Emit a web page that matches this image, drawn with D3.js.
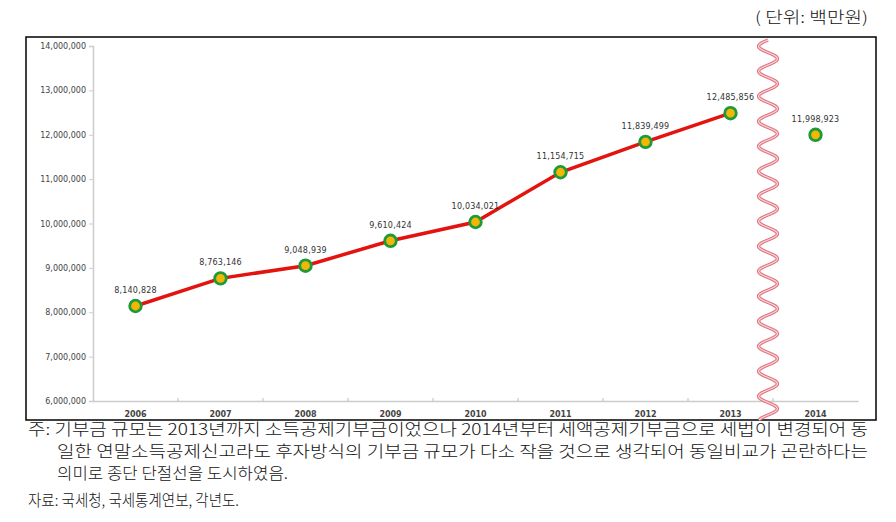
<!DOCTYPE html>
<html><head><meta charset="utf-8">
<script src="https://cdn.jsdelivr.net/npm/d3@7"></script>
<style>body{margin:0;background:#fff}svg{display:block}</style>
</head><body><svg id="c" width="896" height="522"></svg>
<script>
const years = ["2006","2007","2008","2009","2010","2011","2012","2013","2014"];
const values = [8140828, 8763146, 9048939, 9610424, 10034021, 11154715, 11839499, 12485856, 11998923];
const yTicks = [6000000,7000000,8000000,9000000,10000000,11000000,12000000,13000000,14000000];
const unitLabel = "( 단위: 백만원)";
const noteLines = [
  "주: 기부금 규모는 2013년까지 소득공제기부금이었으나 2014년부터 세액공제기부금으로 세법이 변경되어 동",
  "일한 연말소득공제신고라도 후자방식의 기부금 규모가 다소 작을 것으로 생각되어 동일비교가 곤란하다는",
  "의미로 종단 단절선을 도시하였음."
];
const sourceLine = "자료: 국세청, 국세통계연보, 각년도.";

const svg = d3.select("#c");
const x = d3.scaleBand().domain(years).range([93, 858]);
const y = d3.scaleLinear().domain([6000000, 14000000]).range([401, 46]);
const fmt = d3.format(",");

// outer box
svg.append("rect").attr("x",26).attr("y",37).attr("width",850).attr("height",383)
  .attr("fill","none").attr("stroke","#000").attr("stroke-width",1.5);

// unit label
svg.append("text").attr("x",755).attr("y",23)
  .attr("font-family","'Noto Sans CJK KR'").attr("font-size",15.5).attr("font-weight",300).attr("fill","#111")
  .attr("textLength",113).attr("lengthAdjust","spacingAndGlyphs")
  .text(unitLabel);

// y axis
const yAxis = svg.append("g").attr("transform","translate(93,0)")
  .call(d3.axisLeft(y).tickValues(yTicks).tickFormat(fmt).tickSize(4).tickPadding(3));
yAxis.select(".domain").attr("stroke","#ccc").attr("stroke-width",1.5);
yAxis.selectAll(".tick line").attr("stroke","#ccc");
yAxis.selectAll("text").attr("font-family","'DejaVu Sans'").attr("font-size",8).attr("fill","#444");

// x axis
const xAxis = svg.append("g").attr("transform","translate(0,401)")
  .call(d3.axisBottom(x).tickSize(0).tickPadding(10));
xAxis.select(".domain").attr("stroke","#ccc").attr("stroke-width",1.5);
xAxis.selectAll("text").attr("font-family","'DejaVu Sans'").attr("font-size",8)
  .attr("font-weight","bold").attr("fill","#444");
// small ticks at band boundaries
svg.append("g").selectAll("line").data(years.slice(1)).join("line")
  .attr("x1",d=>x(d)).attr("x2",d=>x(d)).attr("y1",398).attr("y2",401)
  .attr("stroke","#bbb");

// line (2006-2013)
const lineData = years.slice(0,8).map((d,i)=>({year:d, v:values[i]}));
const allData = years.map((d,i)=>({year:d, v:values[i]}));
const cx = d => x(d.year) + x.bandwidth()/2;
svg.append("path").datum(lineData)
  .attr("d", d3.line().x(cx).y(d=>y(d.v)))
  .attr("fill","none").attr("stroke","#e3140f").attr("stroke-width",3.5);

// break wave
const waveX = 768, amp = 9.5, period = 25;
const wavePts = d3.range(40, 421, 1).map(t => [waveX + amp*Math.sin((t-40)/period*2*Math.PI + Math.PI), t]);
const waveLine = d3.line().curve(d3.curveBasis);
svg.append("path").attr("d", waveLine(wavePts)).attr("fill","none")
  .attr("stroke","#e07580").attr("stroke-width",3.4);
svg.append("path").attr("d", waveLine(wavePts)).attr("fill","none")
  .attr("stroke","#f8d6d9").attr("stroke-width",1.2);

// points
svg.append("g").selectAll("circle").data(allData).join("circle")
  .attr("cx",cx).attr("cy",d=>y(d.v)).attr("r",5.8)
  .attr("fill","#f2b705").attr("stroke","#1f9a3a").attr("stroke-width",2.8);

// value labels
svg.append("g").selectAll("text").data(allData).join("text")
  .attr("x",cx).attr("y",d=>y(d.v)-13).attr("text-anchor","middle")
  .attr("font-family","'DejaVu Sans'").attr("font-size",8).attr("letter-spacing",0.2)
  .attr("fill","#333").text(d=>fmt(d.v));

// notes
const noteX = [28, 57, 57];
const noteY = [435, 457, 479];
const noteLen = [840, 811, 231];
noteLines.forEach((t,i)=>{
  svg.append("text").attr("x",noteX[i]).attr("y",noteY[i])
    .attr("font-family","'Noto Sans CJK KR'").attr("font-size",15.5).attr("font-weight",300).attr("fill","#111")
    .attr("textLength",noteLen[i]).attr("lengthAdjust","spacingAndGlyphs").text(t);
});
svg.append("text").attr("x",28).attr("y",506)
  .attr("font-family","'Noto Sans CJK KR'").attr("font-size",15.5).attr("font-weight",300).attr("fill","#111")
  .attr("textLength",211).attr("lengthAdjust","spacingAndGlyphs").text(sourceLine);
</script></body></html>
